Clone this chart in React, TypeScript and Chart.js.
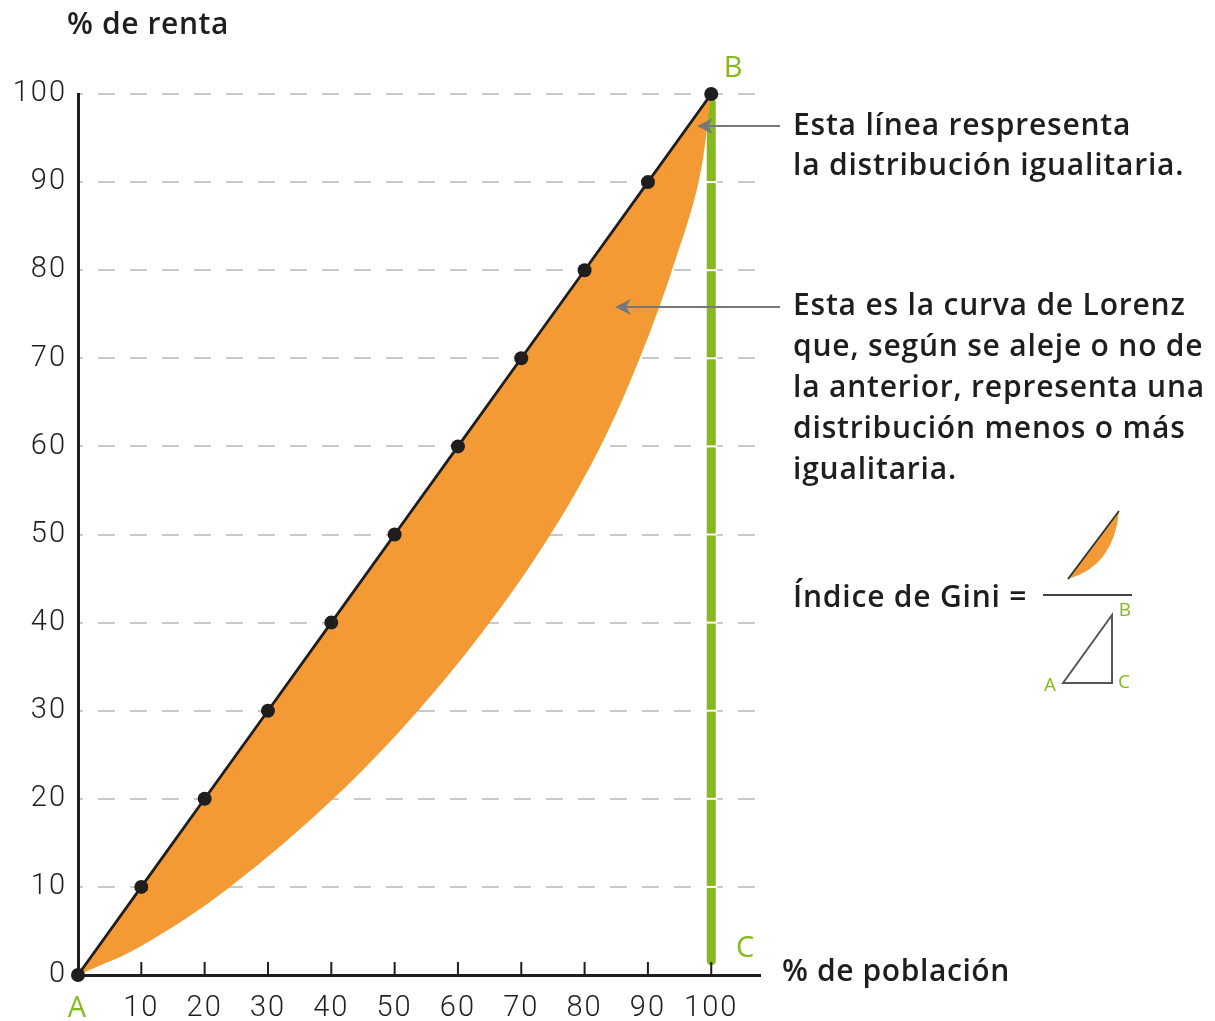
import React, { useEffect, useRef } from "react";
import { Chart, registerables } from "chart.js";

Chart.register(...registerables);

// ---- data ----
const poblacionTicks = [0, 10, 20, 30, 40, 50, 60, 70, 80, 90, 100];
const rentaTicks = [0, 10, 20, 30, 40, 50, 60, 70, 80, 90, 100];
const igualdadPoblacion = [0, 10, 20, 30, 40, 50, 60, 70, 80, 90, 100];
const igualdadRenta = [0, 10, 20, 30, 40, 50, 60, 70, 80, 90, 100];
const lorenzPoblacion = [0, 10, 24, 40.3, 53.7, 65, 74.6, 82.5, 88.7, 93.8, 98, 100];
const lorenzRenta = [0, 3.3, 10, 20, 30, 40, 50, 60, 70, 80, 90, 100];
const lineaBCPoblacion = [100, 100];
const lineaBCRenta = [1.6, 99];

const tituloY = "% de renta";
const tituloX = "% de población";
const textoIgualdad = ["Esta línea respresenta", "la distribución igualitaria."];
const textoLorenz = [
  "Esta es la curva de Lorenz",
  "que, según se aleje o no de",
  "la anterior, representa una",
  "distribución menos o más",
  "igualitaria.",
];
const textoGini = "Índice de Gini =";

// ---- styles ----
const ORANGE = "#f39a35";
const GREEN = "#86b91b";
const INK = "#1f1d1e";
const GRID = "#c9c9c9";
const ARROW = "#777777";
const FONT = '"Open Sans", sans-serif';
const TICK_FONT = "Roboto, sans-serif";

function drawArrow(ctx: CanvasRenderingContext2D, xFrom: number, y: number, xTip: number) {
  ctx.save();
  ctx.strokeStyle = ARROW;
  ctx.fillStyle = ARROW;
  ctx.lineWidth = 2;
  ctx.beginPath();
  ctx.moveTo(xFrom, y);
  ctx.lineTo(xTip + 8, y);
  ctx.stroke();
  ctx.beginPath();
  ctx.moveTo(xTip, y);
  ctx.lineTo(xTip + 16, y - 8);
  ctx.lineTo(xTip + 11, y);
  ctx.lineTo(xTip + 16, y + 8);
  ctx.closePath();
  ctx.fill();
  ctx.restore();
}

const annotationPlugin = {
  id: "annotationPlugin",
  beforeDraw(chart: any) {
    (chart.ctx as any).letterSpacing = "2px";
  },
  afterDatasetsDraw(chart: any) {
    const { ctx, scales } = chart;
    const x = scales.x;
    const y = scales.y;
    const gx = x.getPixelForValue(100);
    ctx.save();
    ctx.strokeStyle = "#ffffff";
    ctx.lineWidth = 2;
    for (const v of rentaTicks) {
      if (v > 0 && v < 100) {
        const py = y.getPixelForValue(v);
        ctx.beginPath();
        ctx.moveTo(gx - 6, py);
        ctx.lineTo(gx + 6, py);
        ctx.stroke();
      }
    }
    // x tick marks (inside)
    ctx.strokeStyle = INK;
    ctx.lineWidth = 2;
    const y0 = y.getPixelForValue(0);
    for (const v of poblacionTicks) {
      if (v === 0) continue;
      const px = x.getPixelForValue(v);
      ctx.beginPath();
      ctx.moveTo(px, y0);
      ctx.lineTo(px, y0 - 13);
      ctx.stroke();
    }
    ctx.restore();
  },
  afterDraw(chart: any) {
    const { ctx, scales } = chart;
    const x = scales.x;
    const y = scales.y;
    ctx.save();
    ctx.textBaseline = "middle";
    ctx.textAlign = "left";
    ctx.letterSpacing = "0.6px";

    // axis titles
    ctx.fillStyle = INK;
    ctx.font = `600 30px ${FONT}`;
    ctx.fillText(tituloY, 67, 25);
    ctx.fillText(tituloX, 782, 972);

    // B and C labels
    ctx.letterSpacing = "0px";
    ctx.fillStyle = GREEN;
    ctx.font = `29px ${FONT}`;
    ctx.textAlign = "center";
    ctx.fillText("B", x.getPixelForValue(100) + 22, y.getPixelForValue(100) - 25);
    ctx.fillText("C", x.getPixelForValue(100) + 34, y.getPixelForValue(0) - 26);

    // annotations
    ctx.letterSpacing = "0.8px";
    ctx.textAlign = "left";
    ctx.fillStyle = INK;
    ctx.font = `600 30px ${FONT}`;
    textoIgualdad.forEach((t, i) => ctx.fillText(t, 793, 126 + i * 40));
    textoLorenz.forEach((t, i) => ctx.fillText(t, 793, 306 + i * 41));
    ctx.fillText(textoGini, 793, 598);
    ctx.letterSpacing = "0px";

    drawArrow(ctx, 780, 126, 697);
    drawArrow(ctx, 780, 307, 615);

    // Gini fraction
    ctx.strokeStyle = "#444444";
    ctx.lineWidth = 2;
    ctx.beginPath();
    ctx.moveTo(1043, 595);
    ctx.lineTo(1132, 595);
    ctx.stroke();

    // small Lorenz crescent
    ctx.fillStyle = ORANGE;
    ctx.beginPath();
    ctx.moveTo(1068, 579);
    ctx.lineTo(1119, 511);
    ctx.quadraticCurveTo(1114, 566, 1068, 579);
    ctx.closePath();
    ctx.fill();
    ctx.strokeStyle = "#333333";
    ctx.lineWidth = 1.8;
    ctx.beginPath();
    ctx.moveTo(1068, 579);
    ctx.lineTo(1119, 511);
    ctx.stroke();

    // triangle
    ctx.strokeStyle = "#555555";
    ctx.lineWidth = 2;
    ctx.beginPath();
    ctx.moveTo(1063, 683);
    ctx.lineTo(1112, 615);
    ctx.lineTo(1112, 683);
    ctx.closePath();
    ctx.stroke();

    ctx.fillStyle = GREEN;
    ctx.font = `19px ${FONT}`;
    ctx.textAlign = "center";
    ctx.fillText("A", 1050, 686);
    ctx.fillText("B", 1125, 611);
    ctx.fillText("C", 1124, 683);

    ctx.restore();
  },
};

export default function App() {
  const canvasRef = useRef<HTMLCanvasElement | null>(null);

  useEffect(() => {
    const canvas = canvasRef.current;
    if (!canvas) return;

    const lorenzData = lorenzPoblacion.map((p, i) => ({ x: p, y: lorenzRenta[i] }));
    const igualdadData = igualdadPoblacion.map((p, i) => ({ x: p, y: igualdadRenta[i] }));
    const bcData = lineaBCPoblacion.map((p, i) => ({ x: p, y: lineaBCRenta[i] }));

    const chart = new Chart(canvas, {
      type: "line",
      data: {
        datasets: [
          {
            label: "Curva de Lorenz",
            data: lorenzData,
            borderWidth: 0,
            borderColor: ORANGE,
            backgroundColor: ORANGE,
            pointRadius: 0,
            tension: 0.35,
            fill: { target: 1, above: ORANGE, below: ORANGE },
            order: 2,
            clip: false,
          },
          {
            label: "Distribución igualitaria",
            data: igualdadData,
            borderColor: INK,
            borderWidth: 2.8,
            pointRadius: 7,
            pointBackgroundColor: INK,
            pointBorderColor: INK,
            pointBorderWidth: 0,
            tension: 0,
            fill: false,
            order: 1,
            clip: false,
          },
          {
            label: "BC",
            data: bcData,
            borderColor: GREEN,
            borderWidth: 9,
            borderCapStyle: "round",
            pointRadius: 0,
            fill: false,
            order: 3,
            clip: false,
          },
        ],
      } as any,
      options: {
        animation: false,
        responsive: false,
        layout: { padding: { top: 94, right: 455, left: 0, bottom: 0 } },
        plugins: {
          legend: { display: false },
          tooltip: { enabled: false },
        },
        scales: {
          x: {
            type: "linear",
            min: 0,
            max: 107.7,
            afterBuildTicks: (scale: any) => {
              scale.ticks = poblacionTicks.map((v) => ({ value: v }));
            },
            afterFit: (scale: any) => {
              scale.height = 46;
            },
            grid: { display: false, drawTicks: false },
            border: { display: true, color: INK, width: 3 },
            ticks: {
              autoSkip: false,
              maxRotation: 0,
              padding: 16,
              font: (ctx: any) =>
                ctx.tick && ctx.tick.value === 0
                  ? { family: FONT, size: 29, weight: "500" }
                  : { family: TICK_FONT, size: 29, weight: "300" },
              color: (ctx: any) => (ctx.tick && ctx.tick.value === 0 ? GREEN : INK),
              callback: (v: any) => (v === 0 ? "A" : String(v)),
            },
          },
          y: {
            type: "linear",
            min: 0,
            max: 100,
            afterBuildTicks: (scale: any) => {
              scale.ticks = rentaTicks.map((v) => ({ value: v }));
            },
            afterFit: (scale: any) => {
              scale.width = 78;
            },
            grid: { color: GRID, lineWidth: 2, drawTicks: false },
            border: { display: true, color: INK, width: 3, dash: [17, 15], dashOffset: 14 },
            ticks: {
              padding: 11,
              font: { family: TICK_FONT, size: 29, weight: "300" },
              color: INK,
            },
          },
        },
      } as any,
      plugins: [annotationPlugin],
    });

    return () => chart.destroy();
  }, []);

  return (
    <div style={{ position: "fixed", left: 0, top: 0, width: 1215, height: 1021, background: "#ffffff" }}>
      <canvas ref={canvasRef} width={1215} height={1021} style={{ display: "block" }} />
    </div>
  );
}
